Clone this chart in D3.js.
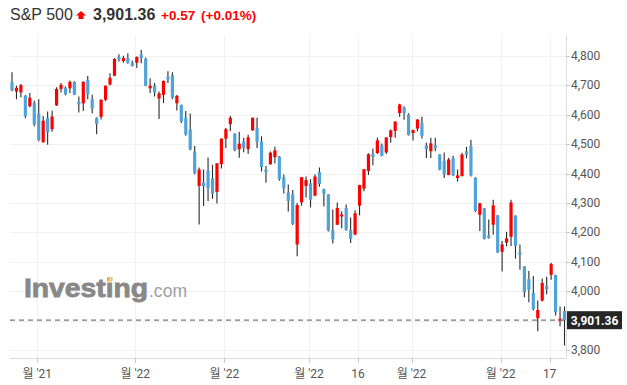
<head>
  <meta charset="UTF-8">
  <title>S&P 500</title>
  <script src="https://d3js.org/d3.v7.min.js"></script>
  <style>
    body { margin:0; background:#fff; }
    svg text { font-family: Roboto, "Noto Sans CJK KR", sans-serif; }
  </style>
</head>
<body>
  <div id="chart"></div>
  <script>

    // Daily candles, Nov 22 2021 .. May 20 2022
    const opens = [4712,4679,4676,4665,4629,4641,4604,4507,4590,4551,4632,4688,4692,4690,4712,4644,4639,4719,4653,4590,
      4593,4651,4703,4733,4797,4783,4793,4777,4777,4805,4790,4690,4699,4655,4668,4729,4736,4639,4633,4590,
      4550,4475,4358,4370,4411,4384,4338,4432,4519,4568,4536,4483,4509,4483,4547,4556,4509,4414,4432,4456,
      4458,4387,4336,4329,4159,4302,4358,4367,4325,4405,4347,4329,4207,4226,4254,4283,4208,4193,4291,4349,
      4409,4466,4470,4496,4472,4524,4545,4606,4625,4601,4538,4553,4573,4496,4476,4497,4465,4443,4395,4452,
      4385,4392,4476,4493,4386,4260,4282,4190,4226,4258,4134,4165,4185,4257,4133,4084,4041,3994,3908,3968,
      4017,4056,4055,3898,3933];
    const highs = [4745,4699,4705,4667,4674,4648,4653,4596,4611,4614,4694,4708,4696,4717,4714,4662,4714,4732,4668,4592,
      4653,4700,4741,4793,4806,4801,4809,4785,4798,4820,4795,4724,4708,4679,4717,4748,4745,4667,4635,4613,
      4604,4494,4421,4414,4455,4430,4435,4519,4555,4597,4537,4542,4522,4532,4591,4590,4527,4426,4475,4491,
      4460,4397,4363,4344,4300,4388,4390,4381,4398,4421,4349,4330,4278,4302,4272,4295,4251,4275,4362,4416,
      4469,4485,4523,4502,4524,4550,4578,4638,4629,4605,4550,4585,4593,4505,4522,4522,4466,4472,4454,4461,
      4414,4471,4491,4515,4388,4301,4283,4244,4311,4259,4171,4202,4311,4258,4159,4085,4069,4052,3968,4043,
      4049,4097,4056,3948,3948];
    const lows = [4680,4653,4660,4588,4626,4561,4510,4505,4498,4542,4630,4676,4666,4674,4667,4608,4613,4653,4604,4534,
      4584,4646,4700,4731,4781,4777,4774,4764,4759,4775,4697,4674,4662,4586,4640,4708,4653,4615,4572,4529,
      4479,4398,4227,4290,4307,4314,4298,4417,4487,4545,4476,4454,4473,4467,4546,4487,4407,4369,4430,4434,
      4376,4332,4271,4225,4119,4291,4319,4285,4323,4355,4288,4203,4162,4225,4214,4206,4164,4190,4258,4340,
      4395,4428,4467,4459,4467,4505,4522,4593,4583,4530,4513,4544,4519,4453,4453,4476,4411,4385,4394,4392,
      4373,4390,4452,4390,4269,4205,4176,4178,4192,4130,4067,4152,4154,4111,4073,3979,3962,3934,3864,3965,
      3990,4039,3917,3881,3815];
    const closes = [4683,4692,4701,4595,4658,4567,4514,4580,4541,4594,4688,4702,4670,4712,4669,4635,4712,4669,4621,4568,
      4651,4699,4726,4790,4788,4793,4777,4766,4797,4793,4699,4699,4676,4673,4715,4720,4658,4665,4577,4533,
      4482,4401,4414,4358,4350,4331,4435,4519,4551,4590,4480,4502,4487,4523,4590,4508,4422,4405,4471,4479,
      4381,4350,4307,4229,4293,4388,4378,4311,4390,4365,4331,4206,4177,4283,4261,4209,4178,4265,4361,4415,
      4466,4457,4513,4460,4523,4547,4577,4635,4606,4531,4548,4584,4528,4483,4503,4486,4414,4398,4448,4394,
      4394,4465,4464,4394,4273,4299,4178,4181,4292,4132,4159,4180,4302,4154,4124,3996,4005,3939,3936,4028,
      4007,4092,3928,3907,3901.36];

    // x axis labels (index of the candle they sit under)
    const tickIndex  = [6, 28, 48, 67, 78, 90, 110, 121];
    const tickLabels = ["월 '21", "월 '22", "월 '22", "월 '22", "16", "월 '22", "월 '22", "17"];
    const yTicks = [3800, 3900, 4000, 4100, 4200, 4300, 4400, 4500, 4600, 4700, 4800];

    const lastPrice = 3901.36;
    const W = 627, H = 385;
    const plotLeft = 10, plotRight = 566, plotTop = 35, plotBottom = 358;

    const svg = d3.select("#chart").append("svg")
      .attr("width", W).attr("height", H);

    svg.append("rect").attr("width", W).attr("height", H).attr("fill", "#fff");

    const x = d3.scaleLinear().domain([0, closes.length - 1]).range([12, 564.5]);
    const y = d3.scaleLinear().domain([3800, 4800]).range([350, 56]);

    // grid
    svg.append("g").selectAll("line").data(yTicks).join("line")
      .attr("x1", plotLeft).attr("x2", plotRight)
      .attr("y1", d => Math.round(y(d)) + 0.5).attr("y2", d => Math.round(y(d)) + 0.5)
      .attr("stroke", "#f1f1f1");
    svg.append("g").selectAll("line").data(tickIndex).join("line")
      .attr("x1", d => Math.round(x(d) - 1.5) + 0.5).attr("x2", d => Math.round(x(d) - 1.5) + 0.5)
      .attr("y1", plotTop).attr("y2", plotBottom)
      .attr("stroke", "#f1f1f1");

    // Investing.com watermark
    const logo = svg.append("g").attr("opacity", 0.9);
    logo.append("text").attr("x", 24).attr("y", 297)
      .attr("textLength", 124).attr("lengthAdjust", "spacingAndGlyphs")
      .style("font-family", "'Liberation Sans', Arial, sans-serif")
      .style("font-weight", "bold").style("font-size", "25px")
      .attr("fill", "#7c7c7c").attr("stroke", "#7c7c7c").attr("stroke-width", 0.8)
      .text("Investing");
    logo.append("text").attr("x", 149).attr("y", 297)
      .attr("textLength", 38).attr("lengthAdjust", "spacingAndGlyphs")
      .style("font-family", "'Liberation Sans', Arial, sans-serif")
      .style("font-size", "19px").attr("fill", "#959595").text(".com");
    logo.append("path").attr("d", "M107,283 L109,277 L113,277 L111,283 Z").attr("fill", "#f8c27a");

    // candles
    const idx = d3.range(closes.length);
    const g = svg.append("g");
    g.selectAll("line.wick").data(idx).join("line")
      .attr("class", "wick")
      .attr("x1", i => x(i)).attr("x2", i => x(i))
      .attr("y1", i => y(highs[i])).attr("y2", i => y(lows[i]))
      .attr("stroke", "#2a2a2a").attr("stroke-width", 1.1);
    g.selectAll("rect.body").data(idx).join("rect")
      .attr("class", "body")
      .attr("x", i => x(i) - 1.6).attr("width", 3.2)
      .attr("y", i => y(Math.max(opens[i], closes[i])))
      .attr("height", i => Math.max(1.2, Math.abs(y(opens[i]) - y(closes[i]))))
      .attr("fill", i => closes[i] >= opens[i] ? "#ff0000" : "#4fa3dc");

    // last price dashed line
    svg.append("line")
      .attr("x1", plotLeft).attr("x2", plotRight)
      .attr("y1", y(lastPrice)).attr("y2", y(lastPrice))
      .attr("stroke", "#7a7a7a").attr("stroke-width", 1.2)
      .attr("stroke-dasharray", "5,4");

    // right axis
    svg.append("line").attr("x1", plotRight + 0.5).attr("x2", plotRight + 0.5)
      .attr("y1", plotTop).attr("y2", plotBottom).attr("stroke", "#dcdcdc");
    const ya = svg.append("g");
    ya.selectAll("line").data(yTicks.filter(d => d != 3900)).join("line")
      .attr("x1", plotRight).attr("x2", plotRight + 4)
      .attr("y1", d => Math.round(y(d)) + 0.5).attr("y2", d => Math.round(y(d)) + 0.5)
      .attr("stroke", "#c8c8c8");
    ya.selectAll("text").data(yTicks.filter(d => d != 3900)).join("text")
      .attr("x", 571).attr("y", d => y(d) + 4)
      .style("font-size", "12px").attr("fill", "#555")
      .text(d => d3.format(",")(d));

    // price tag
    svg.append("rect").attr("x", 567).attr("y", y(lastPrice) - 9)
      .attr("width", 55).attr("height", 18).attr("fill", "#262626");
    svg.append("text").attr("x", 594.5).attr("y", y(lastPrice) + 4.5)
      .attr("text-anchor", "middle").style("font-size", "12px").style("font-weight", "bold")
      .attr("fill", "#fff").text(d3.format(",.2f")(lastPrice));

    // bottom axis
    svg.append("line").attr("x1", plotLeft).attr("x2", plotRight)
      .attr("y1", plotBottom + 0.5).attr("y2", plotBottom + 0.5).attr("stroke", "#dcdcdc");
    const xa = svg.append("g");
    xa.selectAll("line").data(tickIndex).join("line")
      .attr("x1", d => Math.round(x(d) - 1.5) + 0.5).attr("x2", d => Math.round(x(d) - 1.5) + 0.5)
      .attr("y1", plotBottom).attr("y2", plotBottom + 5)
      .attr("stroke", "#c8c8c8");
    xa.selectAll("text").data(tickIndex).join("text")
      .attr("x", d => x(d) - 1.5).attr("y", 378)
      .attr("text-anchor", "middle")
      .style("font-size", "12px").attr("fill", "#555")
      .text((d, i) => tickLabels[i]);

    // header
    const hd = svg.append("text").attr("x", 10).attr("y", 20)
      .style("font-family", "'Liberation Sans', Arial, sans-serif");
    hd.append("tspan").style("font-size", "16px").attr("fill", "#333").text("S&P 500");
    svg.append("path").attr("d", "M81,11 L86,15.5 L83.5,15.5 L83.5,19 L78.5,19 L78.5,15.5 L76,15.5 Z")
      .attr("fill", "#ff0000");
    const hd2 = svg.append("text").attr("x", 93).attr("y", 20)
      .style("font-family", "'Liberation Sans', Arial, sans-serif").style("font-weight", "bold");
    hd2.append("tspan").style("font-size", "16px").attr("fill", "#333").text("3,901.36");
    svg.append("text").attr("x", 161).attr("y", 20)
      .style("font-family", "'Liberation Sans', Arial, sans-serif").style("font-weight", "bold")
      .style("font-size", "13.5px").attr("fill", "#ff0000").text("+0.57");
    svg.append("text").attr("x", 201).attr("y", 20)
      .style("font-family", "'Liberation Sans', Arial, sans-serif").style("font-weight", "bold")
      .style("font-size", "13.5px").attr("fill", "#ff0000").text("(+0.01%)");

  </script>
</body>
